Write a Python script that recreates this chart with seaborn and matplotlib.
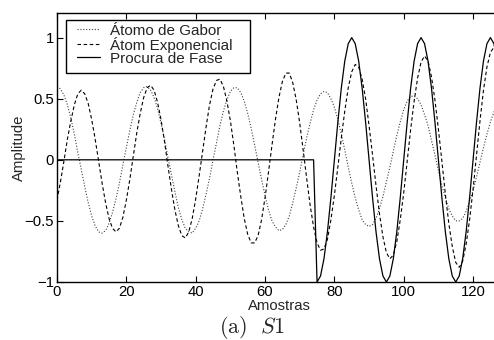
import numpy as np
import pandas as pd
import matplotlib
matplotlib.use("Agg")
import matplotlib.pyplot as plt
from matplotlib.patches import Rectangle
import seaborn as sns

# ====== Data ======
amostras = list(range(128))

gabor = [0.60, 0.58, 0.53, 0.45, 0.34, 0.21, 0.06, -0.08, -0.22, -0.35,
         -0.46, -0.54, -0.59, -0.60, -0.58, -0.52, -0.43, -0.32, -0.19, -0.04,
         0.10, 0.24, 0.37, 0.47, 0.55, 0.59, 0.60, 0.57, 0.51, 0.42,
         0.30, 0.17, 0.02, -0.12, -0.26, -0.39, -0.49, -0.56, -0.59, -0.60,
         -0.56, -0.50, -0.40, -0.28, -0.15, 0.00, 0.14, 0.28, 0.40, 0.49,
         0.56, 0.59, 0.59, 0.55, 0.48, 0.38, 0.26, 0.12, -0.02, -0.16,
         -0.29, -0.41, -0.50, -0.55, -0.58, -0.57, -0.53, -0.46, -0.35, -0.23,
         -0.10, 0.04, 0.18, 0.30, 0.41, 0.49, 0.54, 0.56, 0.55, 0.50,
         0.43, 0.33, 0.21, 0.08, -0.06, -0.19, -0.31, -0.41, -0.49, -0.53,
         -0.545, -0.53, -0.48, -0.40, -0.30, -0.18, -0.06, 0.07, 0.20, 0.31,
         0.41, 0.48, 0.52, 0.52, 0.50, 0.45, 0.37, 0.28, 0.16, 0.04,
         -0.09, -0.21, -0.31, -0.40, -0.46, -0.50, -0.50, -0.48, -0.42, -0.34,
         -0.25, -0.14, -0.02, 0.10, 0.21, 0.31, 0.39, 0.45]

exponencial = [-0.33, -0.18, -0.01, 0.17, 0.32, 0.45, 0.54, 0.57, 0.54, 0.46,
               0.33, 0.17, -0.01, -0.19, -0.35, -0.48, -0.56, -0.59, -0.56, -0.47,
               -0.33, -0.16, 0.03, 0.22, 0.38, 0.51, 0.59, 0.61, 0.57, 0.47,
               0.33, 0.15, -0.05, -0.24, -0.41, -0.54, -0.62, -0.64, -0.59, -0.48,
               -0.32, -0.13, 0.07, 0.27, 0.45, 0.58, 0.65, 0.66, 0.60, 0.48,
               0.32, 0.12, -0.10, -0.30, -0.48, -0.61, -0.68, -0.68, -0.62, -0.49,
               -0.31, -0.10, 0.12, 0.33, 0.51, 0.64, 0.71, 0.71, 0.63, 0.49,
               0.30, 0.08, -0.15, -0.37, -0.55, -0.68, -0.74, -0.73, -0.65, -0.49,
               -0.29, -0.06, 0.18, 0.40, 0.59, 0.72, 0.78, 0.76, 0.66, 0.50,
               0.28, 0.04, -0.21, -0.44, -0.63, -0.76, -0.81, -0.78, -0.67, -0.49,
               -0.27, -0.01, 0.25, 0.48, 0.67, 0.80, 0.85, 0.81, 0.68, 0.49,
               0.25, -0.01, -0.28, -0.52, -0.71, -0.84, -0.88, -0.83, -0.69, -0.49,
               -0.24, 0.04, 0.32, 0.57, 0.76, 0.88, 0.92, 0.85]

fase = [0.0] * 75 + [
    -1.0, -0.951, -0.809, -0.588, -0.309, 0.0, 0.309, 0.588, 0.809, 0.951,
    1.0, 0.951, 0.809, 0.588, 0.309, 0.0, -0.309, -0.588, -0.809, -0.951,
    -1.0, -0.951, -0.809, -0.588, -0.309, 0.0, 0.309, 0.588, 0.809, 0.951,
    1.0, 0.951, 0.809, 0.588, 0.309, 0.0, -0.309, -0.588, -0.809, -0.951,
    -1.0, -0.951, -0.809, -0.588, -0.309, 0.0, 0.309, 0.588, 0.809, 0.951,
    1.0, 0.951, 0.809]

labels = ["Átomo de Gabor", "Átom Exponencial", "Procura de Fase"]
x_ticks = [0, 20, 40, 60, 80, 100, 120]
y_ticks = [-1, -0.5, 0, 0.5, 1]
y_ticklabels = ["\u22121", "\u22120.5", "0", "0.5", "1"]

# ====== Style ======
sns.set_style("ticks")
plt.rcParams["font.family"] = ["Liberation Sans", "DejaVu Sans"]
plt.rcParams["mathtext.fontset"] = "cm"
plt.rcParams["xtick.direction"] = "in"
plt.rcParams["ytick.direction"] = "in"

fig = plt.figure(figsize=(4.94, 3.40), dpi=100)
ax = fig.add_axes([0.1154, 0.1706, 0.8984, 0.7906])

df = pd.DataFrame({"n": amostras, "gabor": gabor, "exp": exponencial, "fase": fase})

sns.lineplot(data=df, x="n", y="gabor", ax=ax, color="0.25", lw=0.8,
             linestyle=(0, (1, 1.6)), label=labels[0])
sns.lineplot(data=df, x="n", y="exp", ax=ax, color="black", lw=0.8,
             linestyle=(0, (3.2, 2.3)), label=labels[1])
sns.lineplot(data=df, x="n", y="fase", ax=ax, color="black", lw=0.9,
             linestyle="-", label=labels[2])

ax.set_xlim(0, 128)
ax.set_ylim(-1, 1.2)
ax.set_xticks(x_ticks)
ax.set_xticklabels([str(t) for t in x_ticks])
ax.set_yticks(y_ticks)
ax.set_yticklabels(y_ticklabels)
ax.tick_params(axis="both", labelsize=10.7, length=4, width=0.8,
               top=True, right=True, pad=2, colors="black")
for s in ax.spines.values():
    s.set_visible(True)
    s.set_linewidth(1.0)
    s.set_color("black")

ax.set_xlabel("Amostras", fontsize=10.7, labelpad=0)
ax.set_ylabel("Amplitude", fontsize=10.7, labelpad=-1)

# legend box (MATLAB-like, wider than its text)
box = Rectangle((0.0203, 0.7788), 0.4146, 0.197, transform=ax.transAxes,
                facecolor="white", edgecolor="black", lw=1.0, zorder=4.5)
ax.add_patch(box)
leg = ax.legend(loc="upper left", bbox_to_anchor=(0.0444, 0.961), borderaxespad=0,
                fontsize=11, frameon=False, handlelength=1.52, handletextpad=0.65,
                labelspacing=-0.07, borderpad=0)
leg.set_zorder(5)

fig.text(0.511, 0.02, r"$\mathrm{(a)}\ \ \mathit{S1}$", ha="center", va="baseline",
         fontsize=16)

fig.savefig("out.png", dpi=100, facecolor="white")
